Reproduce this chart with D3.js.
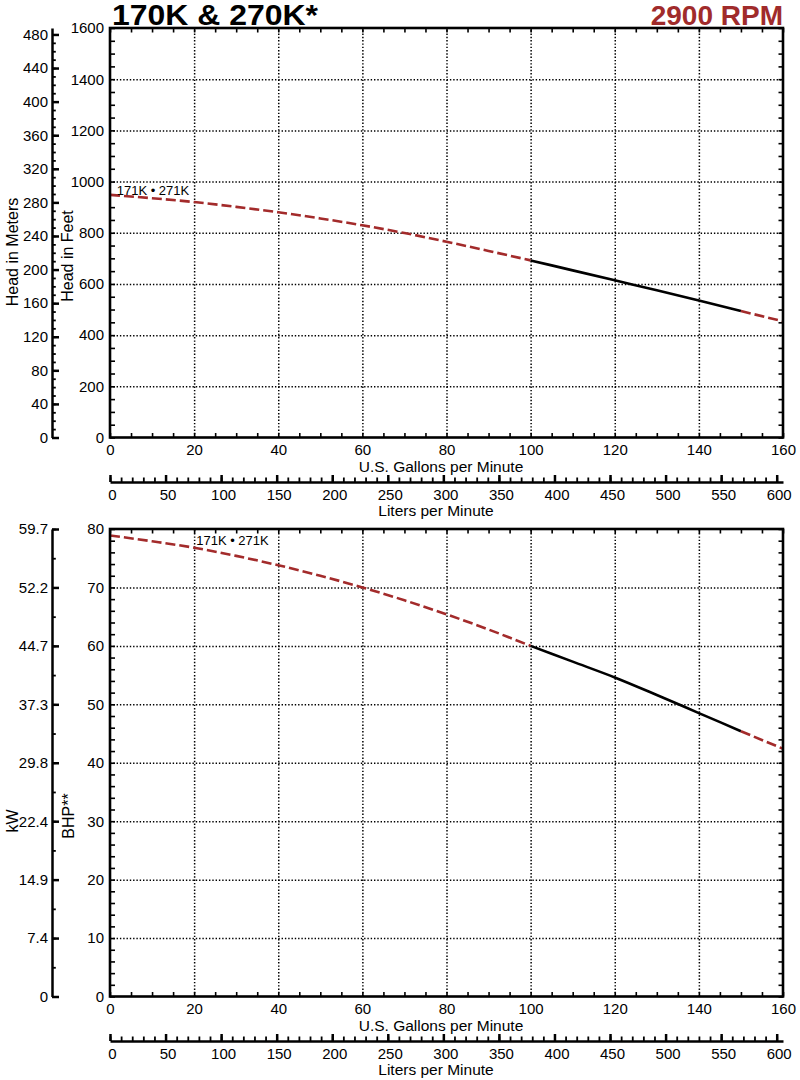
<!DOCTYPE html>
<meta charset="utf-8">
<style>
body { margin: 0; background: #fff; }
svg text { font-family: "Liberation Sans", Arial, Helvetica, sans-serif; fill: #000; }
.tick text { font-size: 15px; }
.grid line { stroke: #000; stroke-width: 1.5; stroke-dasharray: 1.4,1.9; }
.grid path, .minor path, .labels path { display: none; }
.minor line { stroke: #000; stroke-width: 1.6; }
.sec path, .sec line { stroke: #000; stroke-width: 2.5; }
.sec .minor line { stroke-width: 1.8; }
.frame { fill: none; stroke: #000; stroke-width: 2.6; }
.title { font-weight: bold; }
.axtitle { font-size: 15.5px; }
</style>
<body>
<svg id="chart" width="800" height="1080"></svg>
<script src="https://d3js.org/d3.v7.min.js"></script>
<script>
// curve data
var gpm    = [0, 10, 20, 30, 40, 50, 60, 70, 80, 90, 100, 110, 120, 130, 140, 150, 160];
var headFt = [948, 935, 920, 901, 880, 856, 829, 799, 765, 729, 692, 653, 614, 575, 535, 494, 454];
var bhp    = [78.9, 77.9, 76.8, 75.4, 73.8, 72.0, 70.0, 67.8, 65.4, 62.8, 60.0, 57.3, 54.6, 51.6, 48.5, 45.4, 42.4];
var solidRange = [100, 150];   // recommended operating range drawn solid

var gpmTicks  = [0, 20, 40, 60, 80, 100, 120, 140, 160];
var ftTicks   = [0, 200, 400, 600, 800, 1000, 1200, 1400, 1600];
var mTicks    = [0, 40, 80, 120, 160, 200, 240, 280, 320, 360, 400, 440, 480];
var bhpTicks  = [0, 10, 20, 30, 40, 50, 60, 70, 80];
var kwLabels  = ["0", "7.4", "14.9", "22.4", "29.8", "37.3", "44.7", "52.2", "59.7"];
var lpmTicks  = [0, 50, 100, 150, 200, 250, 300, 350, 400, 450, 500, 550, 600];
var modelLabel = "171K \u2022 271K";

var svg = d3.select("#chart");
var L = 110, R = 783;
var x = d3.scaleLinear().domain([0, 160]).range([L, R]);
var lpm = d3.scaleLinear().domain([0, 160 * 3.78541]).range([L, R]);
var fmt = d3.format("d");

svg.append("text").attr("class", "title")
  .attr("x", 112).attr("y", 25)
  .style("font-size", "29px")
  .attr("textLength", 206).attr("lengthAdjust", "spacingAndGlyphs")
  .text("170K & 270K*");
svg.append("text").attr("class", "title")
  .attr("x", 783).attr("y", 25)
  .attr("text-anchor", "end")
  .style("font-size", "28px")
  .style("fill", "#a02b2b")
  .text("2900 RPM");

function drawPanel(p) {
  var top = p.top, bottom = p.bottom;
  var y = d3.scaleLinear().domain([0, p.yMax]).range([bottom, top]);
  var g = svg.append("g");

  // dotted grid
  g.append("g").attr("class", "grid")
    .attr("transform", "translate(0," + bottom + ")")
    .call(d3.axisBottom(x).tickValues(gpmTicks.slice(1, -1)).tickSize(-(bottom - top)).tickFormat(""));
  g.append("g").attr("class", "grid")
    .attr("transform", "translate(" + L + ",0)")
    .call(d3.axisLeft(y).tickValues(p.yTicks.slice(1, -1)).tickSize(-(R - L)).tickFormat(""));

  // inner minor ticks on all four sides
  var xMinor = d3.range(0, 160.1, 5);
  var yMinor = d3.range(0, p.yMax + 0.01, p.yMinorStep);
  g.append("g").attr("class", "minor").attr("transform", "translate(0," + bottom + ")")
    .call(d3.axisBottom(x).tickValues(xMinor).tickSize(-4.5).tickFormat(""));
  g.append("g").attr("class", "minor").attr("transform", "translate(0," + top + ")")
    .call(d3.axisTop(x).tickValues(xMinor).tickSize(-4.5).tickFormat(""));
  g.append("g").attr("class", "minor").attr("transform", "translate(" + L + ",0)")
    .call(d3.axisLeft(y).tickValues(yMinor).tickSize(-5).tickFormat(""));
  g.append("g").attr("class", "minor").attr("transform", "translate(" + R + ",0)")
    .call(d3.axisRight(y).tickValues(yMinor).tickSize(-4.5).tickFormat(""));

  // tick labels
  g.append("g").attr("class", "labels").attr("transform", "translate(0," + bottom + ")")
    .call(d3.axisBottom(x).tickValues(gpmTicks).tickSize(0).tickPadding(7).tickFormat(fmt));
  g.append("g").attr("class", "labels").attr("transform", "translate(" + L + ",0)")
    .call(d3.axisLeft(y).tickValues(p.yTicks).tickSize(0).tickPadding(6).tickFormat(fmt));
  g.selectAll(".labels line").remove();

  // curve: dashed red outside the solid range, black inside
  var line = d3.line()
    .x(function(d) { return x(d.q); })
    .y(function(d) { return y(d.v); })
    .curve(d3.curveMonotoneX);
  var pts = gpm.map(function(q, i) { return {q: q, v: p.values[i]}; });
  var segs = [
    {data: pts.filter(function(d) { return d.q <= solidRange[0]; }), solid: false},
    {data: pts.filter(function(d) { return d.q >= solidRange[0] && d.q <= solidRange[1]; }), solid: true},
    {data: pts.filter(function(d) { return d.q >= solidRange[1]; }), solid: false}
  ];
  g.selectAll(".curve").data(segs).enter().append("path")
    .attr("class", "curve")
    .attr("d", function(d) { return line(d.data); })
    .attr("fill", "none")
    .attr("stroke", function(d) { return d.solid ? "#000" : "#a32b2b"; })
    .attr("stroke-width", 2.6)
    .attr("stroke-dasharray", function(d) { return d.solid ? null : "10,4"; });

  g.append("text")
    .attr("x", x(p.labelAt[0])).attr("y", y(p.labelAt[1]))
    .style("font-size", "13px")
    .text(modelLabel);

  // frame
  g.append("rect").attr("class", "frame")
    .attr("x", L).attr("y", top).attr("width", R - L).attr("height", bottom - top);

  // secondary left axis (metric)
  var s = d3.scaleLinear().domain([0, p.secMax]).range([bottom, top]);
  var sg = g.append("g").attr("class", "sec").attr("transform", "translate(52,0)");
  sg.append("g").attr("class", "minor")
    .call(d3.axisLeft(s).tickValues(p.secMinor).tickSizeInner(-3.8).tickSizeOuter(0).tickFormat(""));
  sg.append("g")
    .call(d3.axisLeft(s).tickValues(p.secTicks).tickSizeInner(-7).tickSizeOuter(0).tickPadding(4)
      .tickFormat(p.secFormat));

  // liters per minute axis below
  var ly = bottom + 44.5;
  var lg = g.append("g").attr("class", "sec").attr("transform", "translate(0," + ly + ")");
  lg.append("g").attr("class", "minor")
    .call(d3.axisBottom(lpm).tickValues(d3.range(0, 601, 10)).tickSizeInner(-4.5).tickSizeOuter(0).tickFormat(""));
  lg.append("g")
    .call(d3.axisBottom(lpm).tickValues(lpmTicks).tickSizeInner(-7).tickSizeOuter(0).tickPadding(7).tickFormat(fmt));
  lg.select("path").attr("d", "M" + L + ",0H" + R);
  lg.selectAll(".tick text").attr("dx", 2);

  g.append("text").attr("class", "axtitle")
    .attr("x", 441).attr("y", bottom + 34).attr("text-anchor", "middle")
    .text("U.S. Gallons per Minute");
  g.append("text").attr("class", "axtitle")
    .attr("x", 436).attr("y", bottom + 78).attr("text-anchor", "middle")
    .text("Liters per Minute");

  p.titles.forEach(function(t) {
    g.append("text").attr("class", "axtitle")
      .attr("transform", "translate(" + t[1] + "," + t[2] + ") rotate(-90)")
      .attr("text-anchor", "middle").attr("dy", "0.35em")
      .style("font-size", "16px")
      .text(t[0]);
  });
}

drawPanel({
  top: 28, bottom: 437.5, yMax: 1600,
  yTicks: ftTicks, yMinorStep: 50, values: headFt,
  labelAt: [1.6, 948],
  secMax: 1600 * 0.3048,
  secTicks: mTicks, secMinor: d3.range(0, 481, 10),
  secFormat: fmt,
  titles: [["Head in Meters", 12, 252], ["Head in Feet", 67, 256]]
});

drawPanel({
  top: 529, bottom: 996.5, yMax: 80,
  yTicks: bhpTicks, yMinorStep: 2, values: bhp,
  labelAt: [20.5, 77.2],
  secMax: 80,
  secTicks: bhpTicks, secMinor: d3.range(0, 81, 5),
  secFormat: function(d, i) { return kwLabels[i]; },
  titles: [["kW", 12, 821], ["BHP**", 68, 816]]
});
</script>
</body>
